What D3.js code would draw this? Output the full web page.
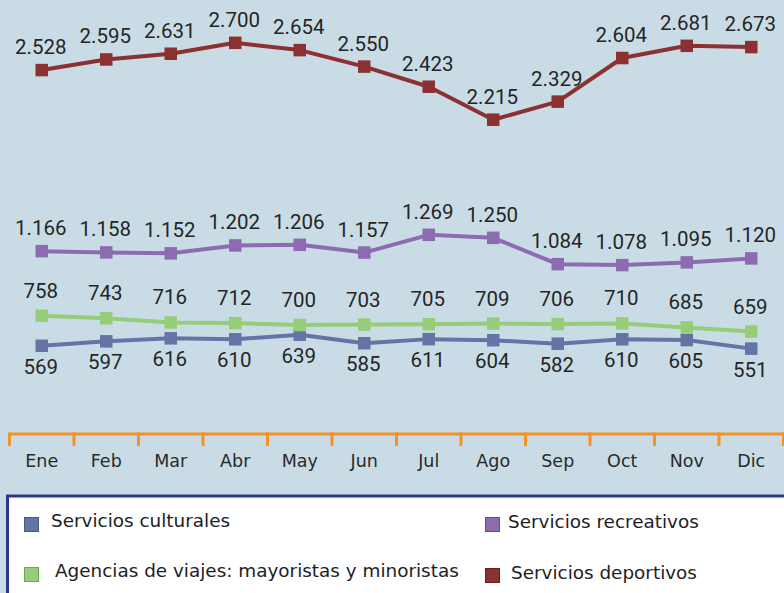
<!DOCTYPE html>
<html>
<head>
<meta charset="utf-8">
<script src="https://cdn.jsdelivr.net/npm/d3@7"></script>
<style>
  html, body { margin: 0; padding: 0; background: #c9dce6; }
  svg { display: block; }
</style>
</head>
<body>
<svg id="chart" width="784" height="593"></svg>
<script>
// Monthly data (thousands), Spanish month abbreviations
const months = ["Ene", "Feb", "Mar", "Abr", "May", "Jun", "Jul", "Ago", "Sep", "Oct", "Nov", "Dic"];

const culturales  = [569, 597, 616, 610, 639, 585, 611, 604, 582, 610, 605, 551];
const agencias    = [758, 743, 716, 712, 700, 703, 705, 709, 706, 710, 685, 659];
const recreativos = [1166, 1158, 1152, 1202, 1206, 1157, 1269, 1250, 1084, 1078, 1095, 1120];
const deportivos  = [2528, 2595, 2631, 2700, 2654, 2550, 2423, 2215, 2329, 2604, 2681, 2673];

const seriesNames = ["Servicios culturales", "Agencias de viajes: mayoristas y minoristas",
                     "Servicios recreativos", "Servicios deportivos"];

const fmt = v => d3.format(",")(v).replace(/,/g, ".");

const svg = d3.select("#chart");
const W = 784, H = 593;

svg.append("rect").attr("width", W).attr("height", H).attr("fill", "#c9dce6");

// Category axis spans the full width
const x = d3.scaleBand().domain(months).range([9.5, 783.5]);
const xc = m => x(m) + x.bandwidth() / 2;

// Primary value axis, plus secondary axis used by "Servicios deportivos"
const y  = d3.scaleLinear().domain([0, 2750]).range([436, 0]);
const y2 = d3.scaleLinear().domain([220, 2970]).range([436, 0]);

const series = [
  { name: seriesNames[0], values: culturales,  color: "#6375a4", edge: "#4a5a86", scale: y,  labelDy: 28,  legend: [24, 517, 51, 527] },
  { name: seriesNames[1], values: agencias,    color: "#95cd79", edge: "#6fa457", scale: y,  labelDy: -18, legend: [24, 567, 55, 577] },
  { name: seriesNames[2], values: recreativos, color: "#8d6bb0", edge: "#6b4b8d", scale: y,  labelDy: -16, legend: [485, 517, 508, 528] },
  { name: seriesNames[3], values: deportivos,  color: "#8b3131", edge: "#6a1f1f", scale: y2, labelDy: -16, legend: [485, 568, 511, 579] }
];

// Category axis
const axisG = svg.append("g").attr("transform", "translate(0,434)");
const axis = d3.axisBottom(x.copy().range([9.5, 783.5])).tickSize(0).tickFormat("");
axisG.call(axis);
axisG.select(".domain").remove();
axisG.append("line")
  .attr("x1", 9.5).attr("x2", 784)
  .attr("stroke", "#f39325").attr("stroke-width", 3);
const edges = months.map(m => x(m)).concat([x(months[months.length - 1]) + x.bandwidth()]);
axisG.selectAll("line.tk").data(edges).enter().append("line")
  .attr("class", "tk")
  .attr("x1", d => d).attr("x2", d => d)
  .attr("y1", -1.5).attr("y2", 12)
  .attr("stroke", "#f39325").attr("stroke-width", 3);
axisG.selectAll("text.lbl").data(months).enter().append("text")
  .attr("class", "lbl")
  .attr("x", d => xc(d)).attr("y", 33)
  .attr("text-anchor", "middle")
  .attr("font-family", "DejaVu Sans, sans-serif")
  .attr("font-size", 17.5)
  .attr("fill", "#2a2a2a")
  .text(d => d);

// Lines, markers and value labels
const ms = 12.5;
series.forEach(s => {
  const line = d3.line().x((d, i) => xc(months[i])).y(d => s.scale(d));
  const g = svg.append("g");
  g.append("path")
    .datum(s.values)
    .attr("d", line)
    .attr("fill", "none")
    .attr("stroke", s.color)
    .attr("stroke-width", 4)
    .attr("stroke-linejoin", "round");
  g.selectAll("rect").data(s.values).enter().append("rect")
    .attr("x", (d, i) => xc(months[i]) - ms / 2)
    .attr("y", d => s.scale(d) - ms / 2)
    .attr("width", ms).attr("height", ms)
    .attr("fill", s.color);
  g.selectAll("text").data(s.values).enter().append("text")
    .attr("x", (d, i) => xc(months[i]) - 1)
    .attr("y", d => s.scale(d) + s.labelDy)
    .attr("text-anchor", "middle")
    .attr("font-family", "Roboto, sans-serif")
    .attr("font-size", 20.5)
    .attr("fill", "#252525")
    .text(d => fmt(d));
});

// Legend box
svg.append("rect")
  .attr("x", 7.5).attr("y", 496)
  .attr("width", 820).attr("height", 140)
  .attr("fill", "#ffffff")
  .attr("stroke", "#2e3590").attr("stroke-width", 3);

const leg = svg.append("g");
series.forEach(s => {
  const [sx, sy, tx, ty] = s.legend;
  leg.append("rect")
    .attr("x", sx + 0.5).attr("y", sy + 0.5)
    .attr("width", 14).attr("height", 14)
    .attr("fill", s.color)
    .attr("stroke", s.edge).attr("stroke-width", 1);
  leg.append("text")
    .attr("x", tx).attr("y", ty)
    .attr("font-family", "DejaVu Sans, sans-serif")
    .attr("font-size", 18.4)
    .attr("fill", "#1e1e1e")
    .text(s.name);
});
</script>
</body>
</html>
